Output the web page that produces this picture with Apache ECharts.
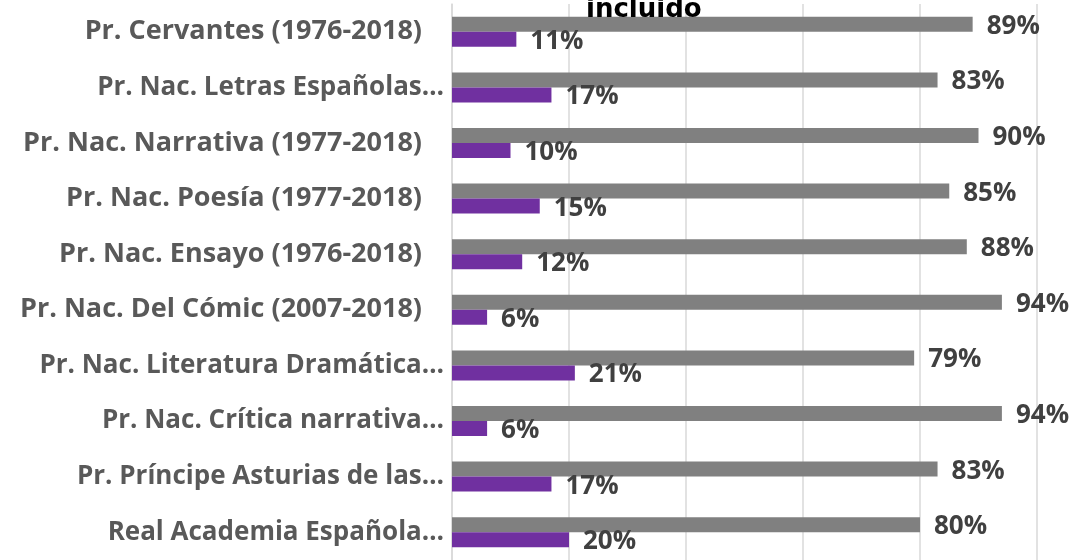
<!DOCTYPE html>
<html>
<head>
<meta charset="utf-8">
<script src="https://cdn.jsdelivr.net/npm/echarts@6/dist/echarts.min.js"></script>
<style>
  html, body { margin: 0; padding: 0; background: #fff; }
  #chart { width: 1079px; height: 560px; }
</style>
</head>
<body>
<div id="chart"></div>
<script>
// categorías, de arriba a abajo
var premios = [
  'Pr. Cervantes (1976-2018)',
  'Pr. Nac. Letras Españolas…',
  'Pr. Nac. Narrativa (1977-2018)',
  'Pr. Nac. Poesía (1977-2018)',
  'Pr. Nac. Ensayo (1976-2018)',
  'Pr. Nac. Del Cómic (2007-2018)',
  'Pr. Nac. Literatura Dramática…',
  'Pr. Nac. Crítica narrativa…',
  'Pr. Príncipe Asturias de las…',
  'Real Academia Española…'
];
var hombres = [89, 83, 90, 85, 88, 94, 79, 94, 83, 80];
var mujeres = [11, 17, 10, 15, 12, 6, 21, 6, 17, 20];
var ticksX = [0, 20, 40, 60, 80, 100];

var FONT = 'Open Sans';

var chart = echarts.init(document.getElementById('chart'));

var valueLabel = {
  show: true,
  position: 'right',
  distance: 14,
  offset: [0, 2],
  formatter: '{c}%',
  color: '#404040',
  fontFamily: FONT,
  fontWeight: 'bold',
  fontSize: 26
};

chart.setOption({
  animation: false,
  title: {
    text: 'incluido',
    left: 581,
    top: -8,
    textStyle: { color: '#000', fontFamily: 'DejaVu Sans', fontWeight: 'bold', fontSize: 26 }
  },
  grid: { left: 452, right: 42, top: 4, height: 561, containLabel: false },
  xAxis: {
    type: 'value',
    min: ticksX[0],
    max: ticksX[ticksX.length - 1],
    interval: 20,
    axisLabel: { show: false },
    axisLine: { show: false },
    axisTick: { show: false },
    splitLine: { show: true, lineStyle: { color: '#d9d9d9', width: 1.5 } }
  },
  yAxis: {
    type: 'category',
    inverse: true,
    data: premios,
    axisLine: { show: true, lineStyle: { color: '#d9d9d9', width: 1.5 } },
    axisTick: { show: false },
    axisLabel: {
      margin: 8,
      formatter: function (v) {
        // las etiquetas completas quedan algo más a la izquierda
        return v.slice(-1) === '…' ? '{e|' + v + '}' : '{f|' + v + '}';
      },
      rich: {
        e: { color: '#595959', fontFamily: FONT, fontWeight: 'bold', fontSize: 26 },
        f: { color: '#595959', fontFamily: FONT, fontWeight: 'bold', fontSize: 27, padding: [0, 22, 0, 0] }
      }
    }
  },
  series: [
    {
      name: 'Hombres',
      type: 'bar',
      data: hombres,
      barWidth: 15,
      barGap: '0%',
      itemStyle: { color: '#808080' },
      label: valueLabel
    },
    {
      name: 'Mujeres',
      type: 'bar',
      data: mujeres,
      barWidth: 15,
      barGap: '0%',
      itemStyle: { color: '#7030a0' },
      label: valueLabel
    }
  ]
});
</script>
</body>
</html>
